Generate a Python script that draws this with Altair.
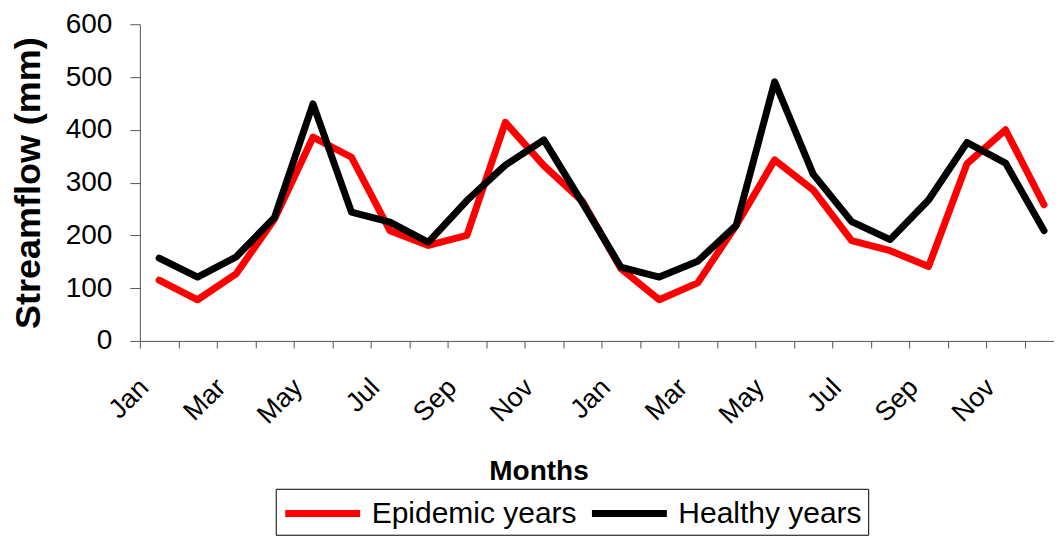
import altair as alt
import pandas as pd

months = ["Jan", "Feb", "Mar", "Apr", "May", "Jun",
          "Jul", "Aug", "Sep", "Oct", "Nov", "Dec"]
epidemic = [115, 78, 127, 231, 386, 348, 209, 181, 200, 414, 332, 265,
            137, 78, 110, 219, 343, 286, 190, 171, 141, 336, 400, 258]
healthy = [157, 121, 159, 234, 449, 244, 225, 187, 266, 333, 381, 262,
           140, 121, 151, 219, 491, 316, 226, 192, 267, 376, 337, 209]
series_names = ["Epidemic years", "Healthy years"]
y_ticks = [0, 100, 200, 300, 400, 500, 600]

rows = []
for name, vals in zip(series_names, [epidemic, healthy]):
    for i, v in enumerate(vals):
        rows.append({"idx": i, "month": months[i % 12], "series": name, "value": v})
df = pd.DataFrame(rows)

tick_vals = [k - 0.5 for k in range(24)]
month_arr = "[" + ",".join("'" + m + "'" for m in months) + "]"
label_expr = ("round(datum.value + 0.5) % 2 == 0 ? " + month_arr +
              "[round(datum.value + 0.5) % 12] : ''")

FONT = "Liberation Sans"
AXIS_COLOR = "#555555"

chart = alt.Chart(df).mark_line(strokeWidth=7, strokeJoin="round", strokeCap="round").encode(
    x=alt.X("idx:Q",
            scale=alt.Scale(domain=[-0.5, 23.26], nice=False, zero=False),
            axis=alt.Axis(values=tick_vals, labelExpr=label_expr, labelAngle=-45,
                          labelAlign="right", labelBaseline="top",
                          labelFontSize=27, labelFont=FONT, labelColor="black",
                          labelPadding=26, labelOffset=-5, labelOverlap=False,
                          labelFlush=False,
                          tickSize=7, tickColor=AXIS_COLOR, domainColor=AXIS_COLOR,
                          grid=False, title="Months", titleFont=FONT,
                          titleFontSize=28, titleFontWeight="bold", titleColor="black",
                          titleX=399, titleY=139, titleBaseline="alphabetic",
                          titleAlign="center")),
    y=alt.Y("value:Q",
            scale=alt.Scale(domain=[0, 600], nice=False),
            axis=alt.Axis(values=y_ticks, labelFontSize=28, labelFont=FONT,
                          labelColor="black", labelPadding=18, tickSize=10,
                          tickColor=AXIS_COLOR, domainColor=AXIS_COLOR, grid=False,
                          title="Streamflow (mm)", titleFont=FONT, titleFontSize=36,
                          titleFontWeight="bold", titleColor="black",
                          titlePadding=18)),
    color=alt.Color("series:N",
                    scale=alt.Scale(domain=series_names, range=["#ff0000", "#000000"]),
                    legend=alt.Legend(title=None, orient="none", legendX=136, legendY=465,
                                      direction="horizontal", columns=2,
                                      symbolType="M-1,0L4,0", symbolSize=900,
                                      symbolStrokeWidth=7, labelFontSize=30,
                                      labelFont=FONT, labelColor="black",
                                      labelLimit=400,
                                      labelOffset=53, columnPadding=0,
                                      strokeColor="black", fillColor="white",
                                      padding=6, cornerRadius=0)),
    detail="series:N",
).properties(
    width=915, height=317,
    padding={"left": 2, "top": 2, "right": 0, "bottom": 0},
).configure_view(stroke=None)

chart.save("out.html", embed_options={"renderer": "svg", "actions": False})
